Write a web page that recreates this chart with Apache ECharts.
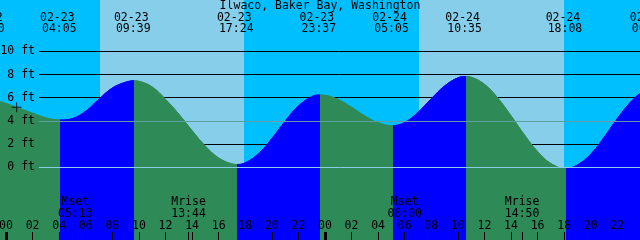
<!DOCTYPE html>
<html>
<head>
<meta charset="utf-8">
<script src="https://cdn.jsdelivr.net/npm/echarts@6/dist/echarts.min.js"></script>
<style>
  html, body { margin: 0; padding: 0; background: #fff; }
  #chart { width: 640px; height: 240px; }
</style>
</head>
<body>
<div id="chart"></div>
<script>
// hours are counted from 02-23 00:00, heights in feet
const title = 'Ilwaco, Baker Bay, Washington';

const tideHours = [-0.45, 0, 1, 2, 3, 4.083, 5, 6, 7, 8, 9, 9.65, 10, 11, 12, 13, 14, 15, 16, 17, 17.4,
  18, 19, 20, 21, 22, 23, 23.617, 24, 25, 26, 27, 28, 29.083, 30, 31, 32, 33, 34, 34.583,
  35, 36, 37, 38, 39, 40, 41, 42.133, 43, 44, 45, 46, 47, 47.71];
const tideFeet = [5.67, 5.52, 5.09, 4.68, 4.28, 4.09, 4.22, 4.85, 5.9, 6.85, 7.35, 7.47, 7.43, 6.94, 5.88, 4.6, 3.18, 1.84, 0.82, 0.31, 0.26,
  0.4, 1.19, 2.49, 3.99, 5.3, 6.1, 6.25, 6.22, 5.85, 5.19, 4.44, 3.85, 3.6, 3.89, 4.75, 5.93, 7.03, 7.73, 7.84,
  7.78, 7.17, 5.99, 4.46, 2.82, 1.37, 0.34, -0.09, 0.22, 1.15, 2.6, 4.22, 5.65, 6.4];

const eventHours = [-1.33, 4.083, 9.65, 17.4, 23.617, 29.083, 34.583, 42.133, 48.467];
const eventKinds = ['high', 'low', 'high', 'low', 'high', 'low', 'high', 'low', 'high'];
const eventDates = ['02-22', '02-23', '02-23', '02-23', '02-23', '02-24', '02-24', '02-24', '02-25'];
const eventTimes = ['22:40', '04:05', '09:39', '17:24', '23:37', '05:05', '10:35', '18:08', '00:28'];

const sunriseHours = [7.08, 31.05];
const sunsetHours = [17.93, 41.97];

const moonHours = [5.217, 13.733, 30.0, 38.833];
const moonNames = ['Mset', 'Mrise', 'Mset', 'Mrise'];
const moonTimes = ['05:13', '13:44', '06:00', '14:50'];

const hourTicks = [0, 2, 4, 6, 8, 10, 12, 14, 16, 18, 20, 22, 24, 26, 28, 30, 32, 34, 36, 38, 40, 42, 44, 46];
const midnightTicks = [0, 24];
const depthTicks = [0, 2, 4, 6, 8, 10];
const meanLevel = 4;
const datumLevel = 0;
const nowPoint = [0.8, 5.2];

const startHour = -0.4515, endHour = 47.705;
const minFeet = -6.25, maxFeet = 14.44;

const nightSky = '#00BFFF', daySky = '#87CEEB';
const floodColor = '#0000FF', ebbColor = '#2E8B57';
const font = '11.5px "DejaVu Sans Mono"';

// rising water after a low, falling after a high (only turns inside the window)
const turns = eventHours
  .map((h, i) => ({ h: h, kind: eventKinds[i] }))
  .filter((e) => e.h > startHour && e.h < endHour);
const pieces = [{ lt: turns[0].h, color: turns[0].kind === 'low' ? ebbColor : floodColor }];
turns.forEach((e, i) => {
  const piece = { gte: e.h, color: e.kind === 'low' ? floodColor : ebbColor };
  if (i < turns.length - 1) piece.lt = turns[i + 1].h;
  pieces.push(piece);
});

const chart = echarts.init(document.getElementById('chart'), null, { renderer: 'canvas' });

const pad = (n) => (n < 10 ? '0' : '') + n;

chart.setOption({
  animation: false,
  backgroundColor: nightSky,
  grid: { left: 0, right: 0, top: 0, bottom: 0, outerBoundsMode: 'none', containLabel: false },
  xAxis: [
    {
      type: 'value', min: startHour, max: endHour, z: 10,
      axisLine: { show: false, onZero: false },
      splitLine: { show: false },
      axisTick: {
        inside: true, length: 8,
        customValues: hourTicks.concat(moonHours),
        lineStyle: { color: '#000', width: 1 }
      },
      axisLabel: {
        inside: true, margin: 8,
        customValues: hourTicks,
        color: '#000', fontFamily: 'DejaVu Sans Mono', fontSize: 11.5,
        formatter: (v) => pad(Math.round(v) % 24)
      }
    },
    {
      type: 'value', min: startHour, max: endHour, z: 10, position: 'bottom',
      axisLine: { show: false, onZero: false },
      splitLine: { show: false },
      axisLabel: { show: false },
      axisTick: {
        inside: true, length: 8,
        customValues: midnightTicks,
        lineStyle: { color: '#000', width: 3 }
      }
    }
  ],
  yAxis: {
    type: 'value', min: minFeet, max: maxFeet, z: 10,
    axisLine: { show: false, onZero: false },
    axisTick: { show: false },
    splitLine: { show: false },
    axisLabel: {
      inside: true, margin: 35, align: 'right',
      customValues: depthTicks,
      color: '#000', fontFamily: 'DejaVu Sans Mono', fontSize: 11.5,
      formatter: '{value} ft'
    }
  },
  visualMap: {
    type: 'piecewise', show: false, dimension: 0, seriesIndex: 1, pieces: pieces
  },
  series: [
    {
      // daylight
      type: 'custom', z: 1, silent: true,
      data: sunriseHours.map((h, i) => [h, sunsetHours[i]]),
      renderItem: (params, api) => {
        const a = api.coord([api.value(0), maxFeet]);
        const b = api.coord([api.value(1), minFeet]);
        const x0 = Math.round(a[0]), x1 = Math.round(b[0]);
        return {
          type: 'rect',
          shape: { x: x0, y: a[1], width: x1 - x0, height: b[1] - a[1] },
          style: { fill: daySky }
        };
      }
    },
    {
      // water
      type: 'line', z: 2, silent: true,
      data: tideHours.map((h, i) => [h, tideFeet[i]]),
      smooth: 0.4,
      symbol: 'none',
      lineStyle: { width: 1 },
      areaStyle: { origin: 'start', opacity: 1 }
    },
    {
      type: 'scatter', z: 5, silent: true,
      data: [nowPoint],
      symbol: 'path://M0,4.5h10v1h-10zM4.5,0h1v10h-1z',
      symbolSize: [10, 10],
      itemStyle: { color: '#000' }
    }
  ]
});

const px = (h, v) => chart.convertToPixel({ gridIndex: 0 }, [h, v]);
const graphics = [];

// depth lines over the sky, hidden by the water
depthTicks.forEach((v) => {
  const y = Math.round(px(0, v)[1] - 0.5) + 0.5;
  graphics.push({ type: 'line', z: 1.5, silent: true,
    shape: { x1: 39, y1: y, x2: 640, y2: y }, style: { stroke: '#000', lineWidth: 1 } });
});
// datum and mean level lines over the water
[[datumLevel, '#87CEEB'], [meanLevel, '#5F9EA0']].forEach(([v, c]) => {
  const y = Math.round(px(0, v)[1] - 0.5) + 0.5;
  graphics.push({ type: 'line', z: 3, silent: true,
    shape: { x1: 39, y1: y, x2: 640, y2: y }, style: { stroke: c, lineWidth: 1 } });
});

const text = (x, y, s) => ({
  type: 'text', z: 6, silent: true, x: x, y: y,
  style: { text: s, font: font, fill: '#000', textAlign: 'center', textVerticalAlign: 'middle' }
});

graphics.push(text(320, 6, title));
eventHours.forEach((h, i) => {
  const x = px(h, 0)[0];
  graphics.push(text(x - 3, 18, eventDates[i]));
  graphics.push(text(x - 1, 29.5, eventTimes[i]));
});
moonHours.forEach((h, i) => {
  const x = px(h, 0)[0];
  graphics.push(text(x, 202, moonNames[i]));
  graphics.push(text(x, 214, moonTimes[i]));
});

chart.setOption({ graphic: { elements: graphics } });
</script>
</body>
</html>
